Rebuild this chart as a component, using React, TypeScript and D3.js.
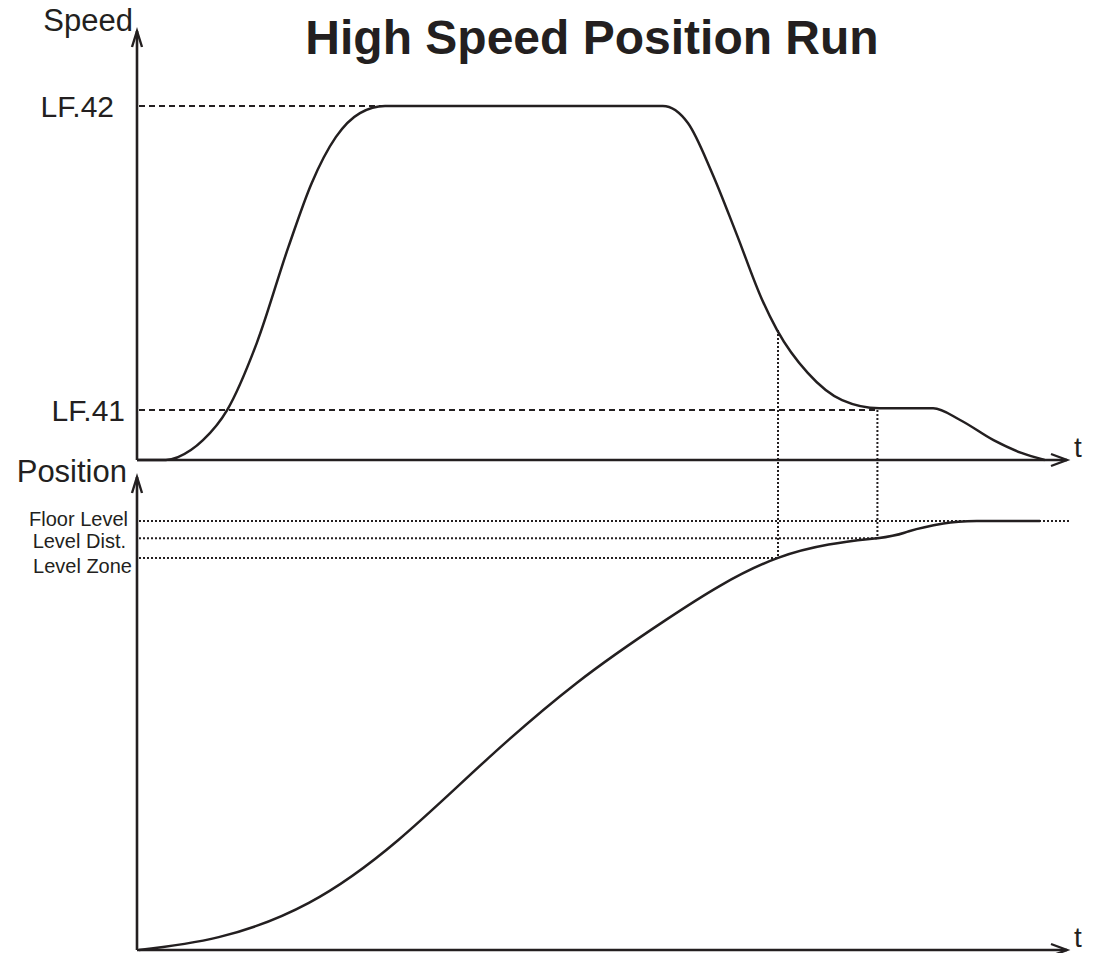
import React, {useEffect, useRef} from 'react';
import * as d3 from "d3";

// time in % of run, values in % of full scale
const speedTime = [0, 3.1, 5.8, 7.1, 9.7, 12.9, 16.3, 18.8, 21.4, 24.0, 26.7, 56.6, 59.3, 61.9, 64.5, 67.3, 68.9, 72.2, 75.9, 79.9, 85.7, 88.6, 92.2, 95.2, 97.7];
const speedValue = [0, 0, 2.8, 5.6, 14.1, 33.1, 60.2, 78.2, 91.2, 98.0, 100, 100, 95.2, 81.1, 64.1, 45.2, 36.7, 24.6, 16.9, 14.6, 14.6, 11.3, 5.6, 2.0, 0];

const posTime = [0.2, 8.8, 18.5, 28.1, 37.7, 47.3, 56.9, 69.0, 79.7, 83.1, 86.8, 90.4, 97.2];
const posValue = [0, 3.0, 11.0, 25.6, 44.5, 62.2, 76.9, 91.4, 96.0, 97.6, 99.4, 100, 100];

const speedLevelLabels = ["LF.42", "LF.41"];
const speedLevelValues = [100, 14.1];
const speedLevelEnds = [40.6, 79.7];

const posLevelLabels = ["Floor Level", "Level Dist.", "Level Zone"];
const posLevelValues = [100, 96.0, 91.4];
const posLevelEnds = [100.4, 79.7, 69.0];

// vertical markers: time, speed where it starts, position where it ends
const markerTimes = [69.0, 79.7];
const markerSpeeds = [36.7, 14.1];
const markerPositions = [91.4, 96.0];

const FONT = "Liberation Sans, Arial, Helvetica, sans-serif";
const INK = "#231f20";

export default function App() {
    const ref = useRef<SVGSVGElement>(null);

    useEffect(() => {
        document.body.style.margin = "0";
        const svg = d3.select(ref.current);
        svg.selectAll("*").remove();

        const xScale = d3.scaleLinear().domain([0, 100]).range([137, 1066]);
        const ySpeed = d3.scaleLinear().domain([0, 100]).range([460, 106]);
        const yPos = d3.scaleLinear().domain([0, 100]).range([950, 521]);

        const x0 = xScale(0);
        const x1 = xScale(100);

        //title
        svg.append("text")
            .attr("x", 592).attr("y", 54)
            .attr("text-anchor", "middle")
            .attr("font-family", FONT)
            .attr("font-weight", "bold")
            .attr("font-size", 48)
            .attr("fill", INK)
            .text("High Speed Position Run");

        //axes with open arrow heads
        const drawAxes = (yScale: any, topY: number, name: string, nameX: number, nameY: number) => {
            const base = yScale(0);
            svg.append("path")
                .attr("d", `M ${x0} ${base} V ${topY} M ${x0} ${base} H ${x1 + 1}`)
                .attr("fill", "none").attr("stroke", INK).attr("stroke-width", 2.6);
            svg.append("path")
                .attr("d", `M ${x0 - 5} ${topY + 16} L ${x0} ${topY} L ${x0 + 5} ${topY + 16}`)
                .attr("fill", "none").attr("stroke", INK).attr("stroke-width", 2.4);
            svg.append("path")
                .attr("d", `M ${x1 - 15} ${base - 6} L ${x1 + 1} ${base} L ${x1 - 15} ${base + 6}`)
                .attr("fill", "none").attr("stroke", INK).attr("stroke-width", 2.4);
            svg.append("text")
                .attr("x", nameX).attr("y", nameY)
                .attr("text-anchor", "end")
                .attr("font-family", FONT).attr("font-size", 31).attr("fill", INK)
                .text(name);
            svg.append("text")
                .attr("x", 1074).attr("y", base - 3)
                .attr("font-family", FONT).attr("font-size", 28).attr("fill", INK)
                .text("t");
        };
        drawAxes(ySpeed, 31, "Speed", 133, 31);
        drawAxes(yPos, 477, "Position", 127, 482);

        //speed reference levels (dashed)
        speedLevelLabels.forEach((label, i) => {
            const y = ySpeed(speedLevelValues[i]);
            svg.append("line")
                .attr("x1", x0 + 2).attr("x2", xScale(speedLevelEnds[i]))
                .attr("y1", y).attr("y2", y)
                .attr("stroke", INK).attr("stroke-width", 2)
                .attr("stroke-dasharray", "6,4");
            svg.append("text")
                .attr("x", i === 0 ? 114 : 125).attr("y", y + 11)
                .attr("text-anchor", "end")
                .attr("font-family", FONT).attr("font-size", 30).attr("fill", INK)
                .text(label);
        });

        //position reference levels (dotted)
        const smallLabelX = [128, 126, 132];
        const smallLabelY = [526, 548, 573];
        posLevelLabels.forEach((label, i) => {
            const y = yPos(posLevelValues[i]);
            svg.append("line")
                .attr("x1", x0 + 2).attr("x2", xScale(posLevelEnds[i]))
                .attr("y1", y).attr("y2", y)
                .attr("stroke", INK).attr("stroke-width", 2)
                .attr("stroke-dasharray", "2,2");
            svg.append("text")
                .attr("x", smallLabelX[i]).attr("y", smallLabelY[i])
                .attr("text-anchor", "end")
                .attr("font-family", FONT).attr("font-size", 20).attr("fill", INK)
                .text(label);
        });

        //vertical markers between the panels
        markerTimes.forEach((t, i) => {
            svg.append("line")
                .attr("x1", xScale(t)).attr("x2", xScale(t))
                .attr("y1", ySpeed(markerSpeeds[i])).attr("y2", yPos(markerPositions[i]))
                .attr("stroke", INK).attr("stroke-width", 2)
                .attr("stroke-dasharray", "2,2");
        });

        //curves
        const speedLine = d3.line<number>()
            .x((_, i) => xScale(speedTime[i]))
            .y(d => ySpeed(d))
            .curve(d3.curveMonotoneX);
        svg.append("path")
            .attr("d", speedLine(speedValue))
            .attr("fill", "none").attr("stroke", INK).attr("stroke-width", 2.5);

        // natural spline keeps the S shape free of kinks
        const posLine = d3.line<number>()
            .x((_, i) => xScale(posTime[i]))
            .y(d => yPos(d))
            .curve(d3.curveNatural);
        svg.append("path")
            .attr("d", posLine(posValue))
            .attr("fill", "none").attr("stroke", INK).attr("stroke-width", 2.5);
    }, []);

    return (
        <svg ref={ref} width={1093} height={953} style={{display: "block", background: "#fff"}}></svg>
    );
}
